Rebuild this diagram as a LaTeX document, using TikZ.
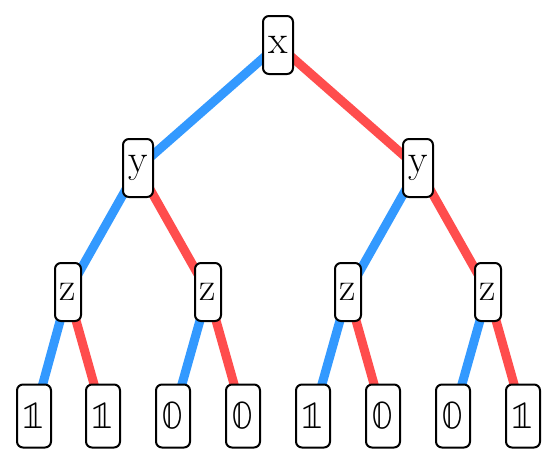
\documentclass[tikz,border=0pt]{standalone}
\usepackage{unicode-math}
\usetikzlibrary{backgrounds}
\definecolor{eblue}{RGB}{51,153,255}
\definecolor{ered}{RGB}{255,77,77}
\tikzset{
  var/.style={draw=black,line width=2pt,fill=white,rounded corners=6pt,inner sep=0pt,minimum height=58pt,font=\fontsize{40}{48}\selectfont},
  wide/.style={var,minimum width=30pt},
  narrow/.style={var,minimum width=26pt},
  leaf/.style={var,minimum width=34pt,minimum height=63pt},
  lo/.style={line width=9pt,eblue},
  hi/.style={line width=9pt,ered}
}
\begin{document}
\begin{tikzpicture}[x=1pt,y=-1pt]
\useasboundingbox (0,0) rectangle (558,464);
\node[wide] (x) at (278,45) {x};
\node[wide] (y1) at (138,168) {y};
\node[wide] (y2) at (418,168) {y};
\node[narrow] (z1) at (68,292) {z};
\node[narrow] (z2) at (208,292) {z};
\node[narrow] (z3) at (348,292) {z};
\node[narrow] (z4) at (488,292) {z};
\node[leaf] (l1) at (34,416) {$\symbb{1}$};
\node[leaf] (l2) at (103,416) {$\symbb{1}$};
\node[leaf] (l3) at (173,416) {$\symbb{0}$};
\node[leaf] (l4) at (243,416) {$\symbb{0}$};
\node[leaf] (l5) at (313,416) {$\symbb{1}$};
\node[leaf] (l6) at (383,416) {$\symbb{0}$};
\node[leaf] (l7) at (453,416) {$\symbb{0}$};
\node[leaf] (l8) at (523,416) {$\symbb{1}$};
\begin{scope}[on background layer]
\draw[lo] (x.center) -- (y1.center);
\draw[hi] (x.center) -- (y2.center);
\draw[lo] (y1.center) -- (z1.center);
\draw[hi] (y1.center) -- (z2.center);
\draw[lo] (y2.center) -- (z3.center);
\draw[hi] (y2.center) -- (z4.center);
\draw[lo] (z1.center) -- (l1.center);
\draw[hi] (z1.center) -- (l2.center);
\draw[lo] (z2.center) -- (l3.center);
\draw[hi] (z2.center) -- (l4.center);
\draw[lo] (z3.center) -- (l5.center);
\draw[hi] (z3.center) -- (l6.center);
\draw[lo] (z4.center) -- (l7.center);
\draw[hi] (z4.center) -- (l8.center);
\end{scope}
\end{tikzpicture}
\end{document}
